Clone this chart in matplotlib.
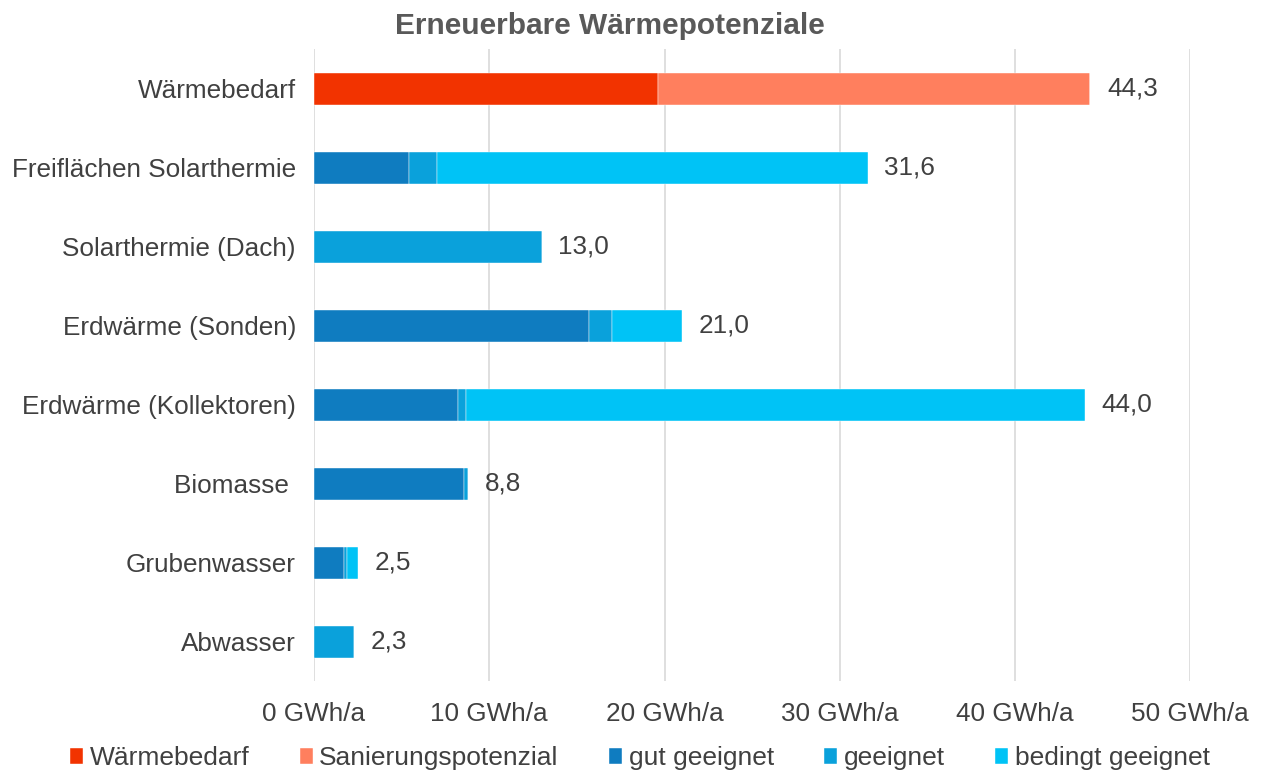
import matplotlib
matplotlib.use("Agg")
import matplotlib.pyplot as plt
import numpy as np

plt.rcParams['font.family'] = ['Liberation Sans', 'DejaVu Sans']

# data (GWh/a)
categories = ["Wärmebedarf", "Freiflächen Solarthermie", "Solarthermie (Dach)",
              "Erdwärme (Sonden)", "Erdwärme (Kollektoren)", "Biomasse ",
              "Grubenwasser", "Abwasser"]
waermebedarf = [19.6, 0, 0, 0, 0, 0, 0, 0]
sanierung = [24.7, 0, 0, 0, 0, 0, 0, 0]
gut = [0, 5.4, 0, 15.7, 8.2, 8.55, 1.73, 0]
geeignet = [0, 1.6, 13.0, 1.3, 0.46, 0.25, 0.17, 2.3]
bedingt = [0, 24.6, 0, 4.0, 35.34, 0, 0.6, 0]
totals = ["44,3", "31,6", "13,0", "21,0", "44,0", "8,8", "2,5", "2,3"]
xticks = [0, 10, 20, 30, 40, 50]

series = [("Wärmebedarf", waermebedarf, "#F23300"),
          ("Sanierungspotenzial", sanierung, "#FF7F5E"),
          ("gut geeignet", gut, "#0F7CC0"),
          ("geeignet", geeignet, "#0AA1DB"),
          ("bedingt geeignet", bedingt, "#00C3F6")]

text_col = "#404040"
fs = 18.8

fig = plt.figure(figsize=(12.62, 7.73), dpi=100)
ax = fig.add_axes([0.2488, 0.1184, 0.6944, 0.8176])

y = np.arange(len(categories))
left = np.zeros(len(categories))
for name, vals, col in series:
    vals = np.array(vals)
    ax.barh(y, vals, left=left, height=0.4, color=col, label=name,
            edgecolor="white", linewidth=0.3, zorder=3)
    left += vals

for i in range(len(categories)):
    ax.text(left[i] + 0.95, y[i], totals[i], va="center", ha="left",
            fontsize=fs, color=text_col)

ax.set_xlim(0, 50)
ax.set_ylim(len(categories) - 0.5, -0.5)
ax.set_yticks(y)
ax.set_yticklabels(categories, fontsize=fs, color=text_col)
ax.set_xticks(xticks)
ax.set_xticklabels([f"{t} GWh/a" for t in xticks], fontsize=fs, color=text_col)
ax.tick_params(axis="both", length=0)
ax.tick_params(axis="x", pad=15)
ax.tick_params(axis="y", pad=13)
ax.grid(axis="x", color="#D9D9D9", linewidth=1.2, zorder=0)
for s in ax.spines.values():
    s.set_visible(False)

fig.text(0.4834, 0.967, "Erneuerbare Wärmepotenziale", ha="center", va="center",
         fontsize=21.5, fontweight="bold", color="#595959")

fig.legend(loc="center", bbox_to_anchor=(0.507, 0.019), ncol=5,
           frameon=False, fontsize=19, handlelength=0.5, handleheight=0.6,
           handletextpad=0.25, columnspacing=1.9, labelcolor=text_col,
           borderpad=0, borderaxespad=0)

fig.savefig("out.png", dpi=100)
